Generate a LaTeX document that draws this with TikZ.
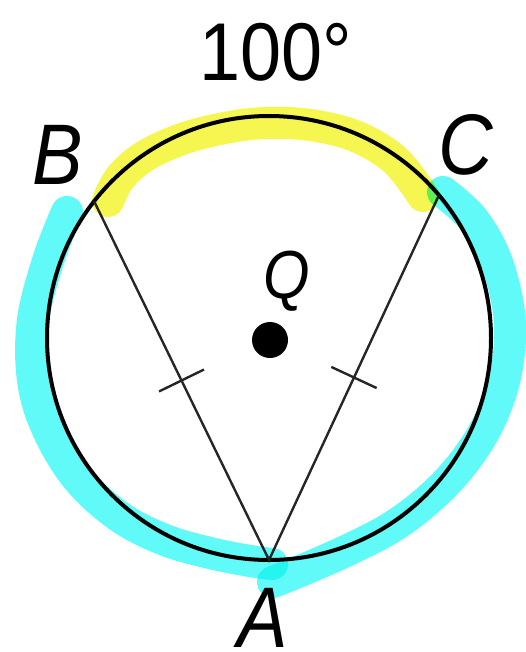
\documentclass[tikz,border=0pt]{standalone}
\usepackage{fontspec}
\setmainfont{Liberation Sans}
\usetikzlibrary{calc}
\definecolor{hlyellow}{RGB}{246,246,80}
\definecolor{hlcyan}{RGB}{96,250,248}
\begin{document}
\begin{tikzpicture}[x=1pt,y=-1pt,
  lbl/.style={font=\fontsize{86}{86}\selectfont\itshape, inner sep=0pt, anchor=base, xscale=0.88},
  hl/.style={line width=32pt, line cap=round, line join=round, blend mode=multiply},
  chord/.style={line width=2.4pt, black!85},
  ring/.style={line width=4pt, black}]
\useasboundingbox (0,0) rectangle (526,652);
% points
\coordinate (Q) at (269,338);
\coordinate (A) at (269,560);
\coordinate (B) at (94,201);
\coordinate (C) at (439,195);
% circle and chords
\draw[ring] (Q) circle[radius=222];
\draw[chord] (B) -- (A) -- (C);
\coordinate (M1) at ($(A)!0.5!(B)$);
\coordinate (M2) at ($(A)!0.5!(C)$);
\draw[chord] ($(M1)!25pt!90:(B)$) -- ($(M1)!25pt!-90:(B)$);
\draw[chord] ($(M2)!25pt!90:(C)$) -- ($(M2)!25pt!-90:(C)$);
\fill (270,340) circle[radius=18];
% highlights
\draw[hl, hlyellow] plot[smooth, tension=0.6] coordinates {(108,201) (120,178) (145,156) (185,138) (230,127) (268,123) (310,125) (355,136) (395,160) (423,196)};
\draw[hl, hlcyan] plot[smooth, tension=0.6] coordinates {(67,212) (49,258) (33,320) (33,380) (48,430) (78,479) (120,517) (165,540) (210,553) (250,561) (272,564)};
\draw[hl, hlcyan] plot[smooth, tension=0.6] coordinates {(443,192) (472,218) (494,255) (507,300) (510,340) (503,385) (486,428) (460,467) (428,500) (392,527) (350,549) (305,569) (273,582)};
% labels
\node[font=\fontsize{82}{82}\selectfont, inner sep=0pt, xscale=0.9] (deg) at (276,52) {100°};
\node[lbl] (lB) at (58,185) {B};
\node[lbl] (lC) at (466,175) {C};
\node[lbl, font=\fontsize{68}{68}\selectfont\itshape] (lQ) at (287,298) {Q};
\node[lbl] (lA) at (263,647) {A};
\end{tikzpicture}
\end{document}
